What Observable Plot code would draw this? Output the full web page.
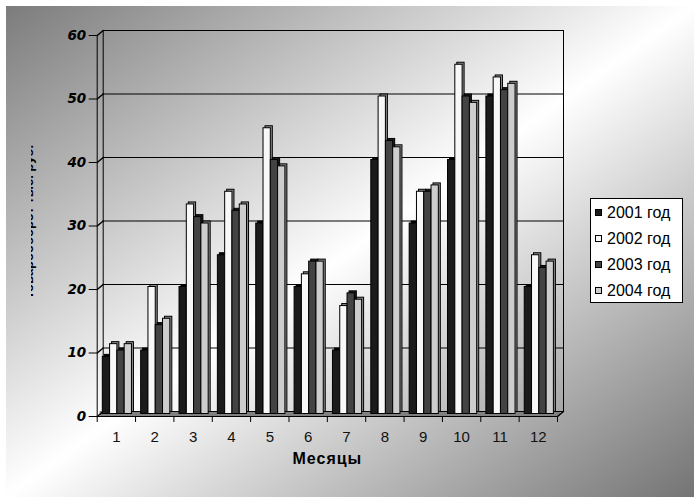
<!DOCTYPE html>
<html>
<head>
<meta charset="utf-8">
<script src="https://cdn.jsdelivr.net/npm/d3@7"></script>
<script src="https://cdn.jsdelivr.net/npm/@observablehq/plot@0.6"></script>
<style>
  html, body { margin: 0; padding: 0; background: #fff; }
  #wrap { position: relative; width: 694px; height: 503px; overflow: hidden; background: #fff; }
  #bg { position: absolute; left: 6px; top: 6px; width: 688px; height: 491px;
        background: linear-gradient(to bottom right, #7c7c7c 0%, #ffffff 50%, #747474 100%); }
  #chart { position: absolute; left: 0; top: 0; }
  #ylab { position: absolute; left: 31px; top: 100px; width: 9px; height: 260px; overflow: hidden; }
  #legend { position: absolute; left: 590px; top: 198px; width: 93px; height: 105px; box-sizing: border-box;
            border: 1px solid #000; background: #fff; font: 16px "Liberation Sans", Arial, sans-serif; color: #000; }
  .item { position: absolute; left: 4px; height: 18px; line-height: 18px; white-space: nowrap; }
  .sw { display: inline-block; width: 5px; height: 5px; border: 1px solid #000; margin-right: 5px; vertical-align: 2px; }
</style>
</head>
<body>
<div id="wrap">
  <div id="bg"></div>
  <div id="chart"></div>
  <div id="ylab"></div>
  <div id="legend"></div>
</div>
<script>
// ---- data ----
const months = [1, 2, 3, 4, 5, 6, 7, 8, 9, 10, 11, 12];
const years = ["2001 год", "2002 год", "2003 год", "2004 год"];
const v2001 = [9, 10, 20, 25, 30, 20, 10, 40, 30, 40, 50, 20];
const v2002 = [11, 20, 33, 35, 45, 22, 17, 50, 35, 55, 53, 25];
const v2003 = [10, 14, 31, 32, 40, 24, 19, 43, 35, 50, 51, 23];
const v2004 = [11, 15, 30, 33, 39, 24, 18, 42, 36, 49, 52, 24];
const yTicks = [0, 10, 20, 30, 40, 50, 60];
const xTitle = "Месяцы";
const yTitle = "Товарооборот тыс. руб.";

// ---- styles ----
const series = [v2001, v2002, v2003, v2004];
const faceColors = ["#1b1b1b", "#f8f8f8", "#434343", "#cdcdcd"];
const sideColors = ["#000000", "#8a8a8a", "#1c1c1c", "#8a8a8a"];
const groupW = 0.76;
const barW = groupW / years.length;
const bounds = d3.range(0.5, months.length + 1, 1);

const data = months.flatMap((m, i) => years.map((y, j) => ({month: m, year: y, yi: j, value: series[j][i]})));
const x1 = d => d.month - groupW / 2 + d.yi * barW;
const x2 = d => d.month - groupW / 2 + (d.yi + 1) * barW;

const wall = {dx: 6, dy: -5};

const plot = Plot.plot({
  width: 694,
  height: 503,
  marginLeft: 96.7,
  marginRight: 137,
  marginTop: 35,
  marginBottom: 87,
  style: {background: "transparent", fontFamily: "Liberation Sans", fontSize: "14px", color: "#000"},
  x: {domain: [0.5, months.length + 0.5], ticks: bounds, tickFormat: () => "", tickSize: 6, line: true, label: null},
  y: {domain: [0, 60], ticks: yTicks, tickFormat: () => "", tickSize: 8, line: true, label: null},
  marks: [
    // floor
    Plot.rect([0], {x1: 0.5, x2: months.length + 0.5, y1: 0, y2: 0, insetTop: -5, dx: 3, fill: "#808080"}),
    // back wall gridlines
    Plot.ruleY(yTicks, {x1: 0.5, x2: months.length + 0.5, stroke: "#000", strokeWidth: 1, ...wall}),
    // back wall vertical edges
    Plot.ruleX([0.5, months.length + 0.5], {y1: 0, y2: 60, stroke: "#000", ...wall}),
    // left wall diagonals
    Plot.vector(yTicks, {x: 0.5, y: d => d, length: 7.8, rotate: 50.2, anchor: "start", r: 0, stroke: "#000"}),
    Plot.vector([0], {x: months.length + 0.5, y: 0, length: 7.8, rotate: 50.2, anchor: "start", r: 0, stroke: "#000"}),
    // bar 3D sides
    Plot.rect(data, {x1, x2, y1: 0, y2: "value", fill: d => sideColors[d.yi], stroke: "#000", strokeWidth: 1, dx: 3, dy: -4.5}),
    // bar faces
    Plot.rect(data, {x1, x2, y1: 0, y2: "value", fill: d => faceColors[d.yi], stroke: "#000", strokeWidth: 1, dx: 1, dy: -2.5}),
    // y tick labels
    Plot.text(yTicks, {x: 0.5, y: d => d, text: d => String(d), textAnchor: "end", dx: -11, fontFamily: "DejaVu Sans",
      fontStyle: "oblique", fontWeight: "bold", fontSize: 13.5, fill: "#000"}),
    // month labels
    Plot.text(months, {x: d => d, y: 0, text: d => String(d), dy: 21, fontFamily: "Liberation Sans", fontSize: 15, fill: "#111"}),
    // x title
    Plot.text([xTitle], {frameAnchor: "bottom", text: d => d, dy: 47, fontFamily: "Liberation Sans", fontWeight: "bold", fontSize: 16, fill: "#000"})
  ]
});
document.getElementById("chart").appendChild(plot);
// slight letter spacing on the axis title, as in the original
d3.select(plot).selectAll("text").filter(function () { return this.textContent === xTitle; }).style("letter-spacing", "1px");

// y title (clipped at the left edge, as in the original)
const ysvg = d3.select("#ylab").append("svg").attr("width", 9).attr("height", 260);
ysvg.append("text")
  .attr("transform", "translate(2,122) rotate(-90)")
  .attr("text-anchor", "middle")
  .style("font", "bold 13px 'Liberation Sans', Arial, sans-serif")
  .attr("fill", "#000")
  .text(yTitle);

// legend
const legend = document.getElementById("legend");
years.forEach((y, j) => {
  const item = document.createElement("div");
  item.className = "item";
  item.style.top = (5 + j * 26) + "px";
  const sw = document.createElement("span");
  sw.className = "sw";
  sw.style.background = faceColors[j];
  item.appendChild(sw);
  item.appendChild(document.createTextNode(y));
  legend.appendChild(item);
});
</script>
</body>
</html>
